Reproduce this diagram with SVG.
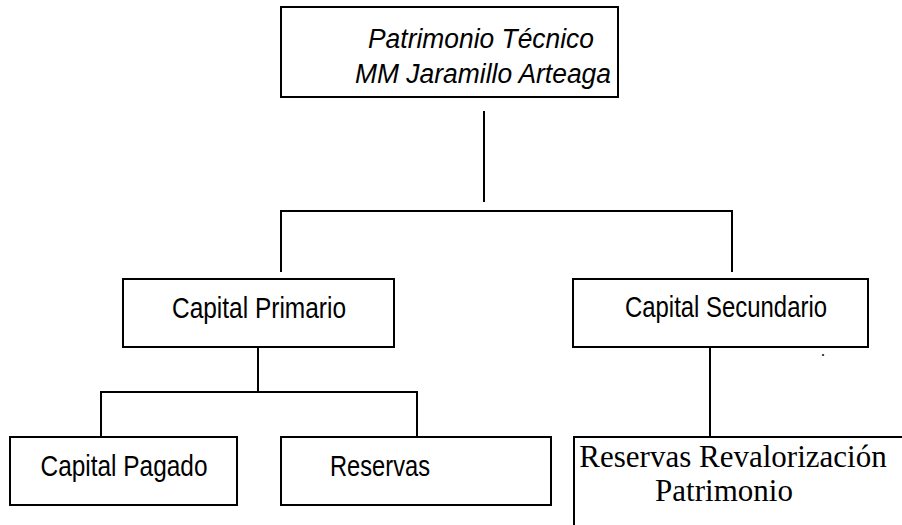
<svg xmlns="http://www.w3.org/2000/svg" width="902" height="525" viewBox="0 0 902 525">
<style>
.box{fill:#fff;stroke:#000;stroke-width:2}
.ln{stroke:#000;stroke-width:2;fill:none}
.s{font-family:"Liberation Sans",Arial,sans-serif;font-size:29px;fill:#000}
.i{font-family:"Liberation Sans",Arial,sans-serif;font-size:27px;font-style:italic;fill:#000}
.t{font-family:"Liberation Serif","Times New Roman",serif;font-size:31px;fill:#000}
</style>
<rect width="902" height="525" fill="#fff"/>
<g id="connectors">
<line class="ln" x1="484" y1="111" x2="484" y2="202"/>
<polyline class="ln" points="281,272 281,211 732,211 732,272"/>
<line class="ln" x1="258" y1="347" x2="258" y2="392"/>
<polyline class="ln" points="101,437 101,392 417,392 417,437"/>
<line class="ln" x1="710" y1="347" x2="710" y2="437"/>
</g>
<g id="patrimonio">
<rect class="box" x="281" y="7" width="337" height="90"/>
<text class="i" x="481" y="48" text-anchor="middle" textLength="226" lengthAdjust="spacingAndGlyphs">Patrimonio Técnico</text>
<text class="i" x="483" y="83" text-anchor="middle" textLength="256" lengthAdjust="spacingAndGlyphs">MM Jaramillo Arteaga</text>
</g>
<g id="capital-primario">
<rect class="box" x="123" y="279" width="271" height="68"/>
<text class="s" x="259" y="318" text-anchor="middle" textLength="174" lengthAdjust="spacingAndGlyphs">Capital Primario</text>
</g>
<g id="capital-secundario">
<rect class="box" x="573" y="279" width="295" height="68"/>
<text class="s" x="726" y="317" text-anchor="middle" textLength="202" lengthAdjust="spacingAndGlyphs">Capital Secundario</text>
<text x="821" y="356" style="font-family:'Liberation Serif',serif;font-size:16px">.</text>
</g>
<g id="capital-pagado">
<rect class="box" x="10" y="437" width="227" height="68"/>
<text class="s" x="124" y="476" text-anchor="middle" textLength="167" lengthAdjust="spacingAndGlyphs">Capital Pagado</text>
</g>
<g id="reservas">
<rect class="box" x="281" y="437" width="270" height="68"/>
<text class="s" x="330" y="476" textLength="100" lengthAdjust="spacingAndGlyphs">Reservas</text>
</g>
<g id="reservas-revalorizacion">
<rect class="box" x="574" y="437" width="400" height="200"/>
<text class="t" x="733" y="467" text-anchor="middle">Reservas Revalorización</text>
<text class="t" x="724" y="501" text-anchor="middle">Patrimonio</text>
</g>
</svg>
